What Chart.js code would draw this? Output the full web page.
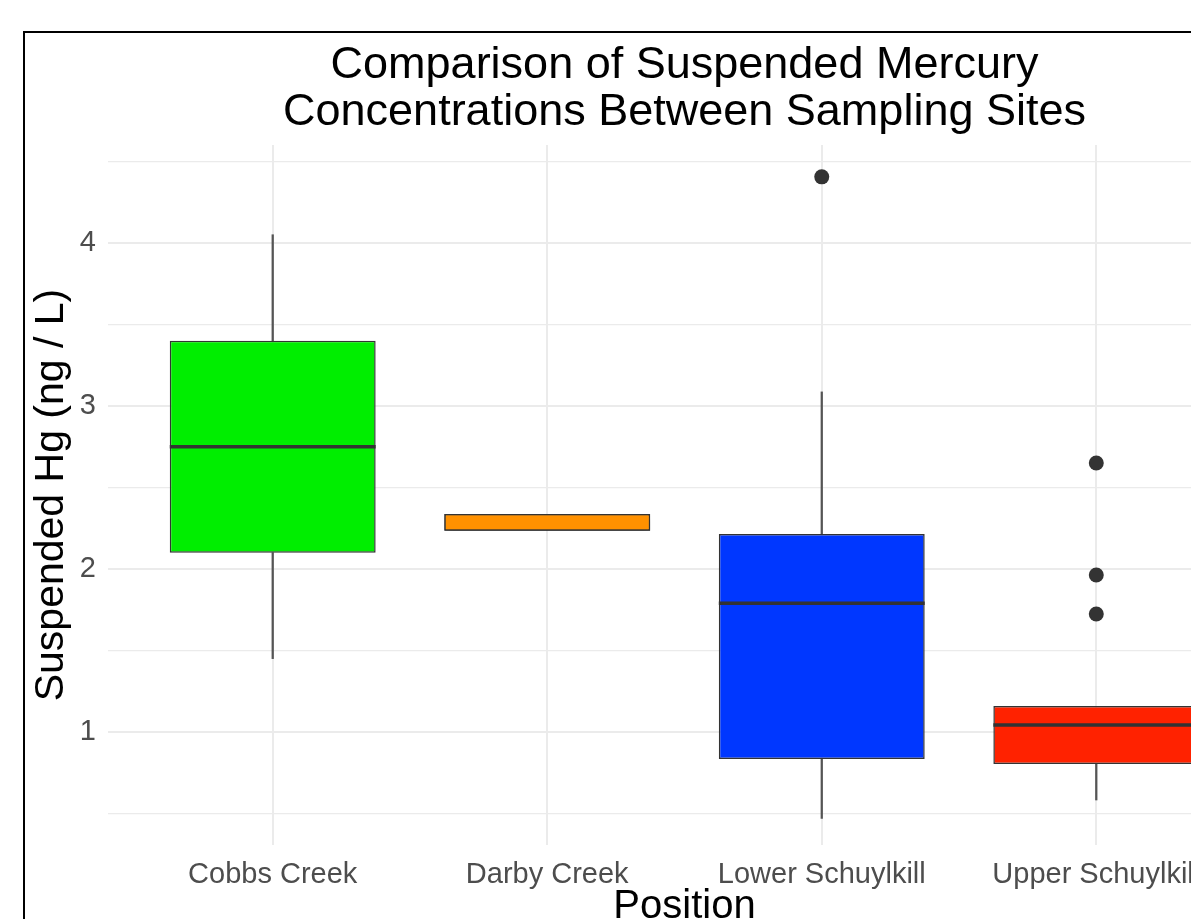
<!DOCTYPE html>
<html lang="en">
<head>
    <meta charset="UTF-8">
    <title>Suspended Mercury</title>
    <script src="https://cdn.jsdelivr.net/npm/chart.js@4.4.0/dist/chart.umd.min.js"></script>
    <style>
        html, body { margin: 0; padding: 0; overflow: hidden; background: #fff; }
        #chartBox { position: absolute; left: 0; top: 0; width: 1300px; height: 960px; }
        #frame { position: absolute; left: 23px; top: 31px; width: 1400px; height: 1000px;
                 border: 2px solid #000; pointer-events: none; }
    </style>
</head>
<body>
    <div id="chartBox"><canvas id="myChart" width="1300" height="960"></canvas></div>
    <div id="frame"></div>

    <script>
        // values
        const sites = ['Cobbs Creek', 'Darby Creek', 'Lower Schuylkill', 'Upper Schuylkill'];
        const boxColors = ['#00ee00', '#ff9100', '#0037ff', '#ff2200'];
        const q1 = [2.10, 2.235, 0.834, 0.804];
        const median = [2.75, null, 1.79, 1.043];
        const q3 = [3.40, 2.337, 2.215, 1.16];
        const whiskerLow = [1.45, null, 0.47, 0.583];
        const whiskerHigh = [4.05, null, 3.086, null];
        const outlierSite = [2, 3, 3, 3];
        const outlierValue = [4.405, 2.65, 1.963, 1.724];
        const yTicks = [0.5, 1, 1.5, 2, 2.5, 3, 3.5, 4, 4.5];

        const font = '"Liberation Sans", Arial, Helvetica, sans-serif';
        const ink = '#333333';

        const boxData = sites.map((s, i) => ({x: i, y: [q1[i], q3[i]]}));
        const upperWhisker = sites.map((s, i) => ({x: i, y: whiskerHigh[i] == null ? null : [q3[i], whiskerHigh[i]]}));
        const lowerWhisker = sites.map((s, i) => ({x: i, y: whiskerLow[i] == null ? null : [whiskerLow[i], q1[i]]}));
        const medianData = sites.map((s, i) => ({x: i, y: median[i]})).filter(p => p.y != null);
        const outlierData = outlierValue.map((v, i) => ({x: outlierSite[i], y: v}));

        // half box width in pixels, taken from the x scale (ggplot box width 0.75)
        function halfBox(ctx) {
            const x = ctx.chart.scales.x;
            return Math.abs(x.getPixelForValue(0.375) - x.getPixelForValue(0));
        }

        // soft shadow under the Darby Creek box, as in the picture
        const shadowPlugin = {
            id: 'boxShadow',
            beforeDatasetDraw(chart, args) {
                if (args.meta.label !== 'boxes') return;
                const el = args.meta.data[1];
                const c = chart.ctx;
                c.save();
                c.shadowColor = 'rgba(0,0,0,0.5)';
                c.shadowBlur = 8;
                c.shadowOffsetY = 4;
                c.shadowOffsetX = 1;
                el.draw(c, chart.chartArea);
                c.restore();
            }
        };

        const ctx = document.getElementById('myChart').getContext('2d');
        new Chart(ctx, {
            type: 'bar',
            data: {
                datasets: [
                    {
                        type: 'scatter', label: 'outliers', data: outlierData, order: 0,
                        pointRadius: 7.5, pointBackgroundColor: ink, pointBorderWidth: 0
                    },
                    {
                        type: 'scatter', label: 'medians', data: medianData, order: 1,
                        pointStyle: 'line', pointRadius: halfBox,
                        pointBorderColor: ink, pointBorderWidth: 3.5
                    },
                    {
                        label: 'boxes', data: boxData, order: 2, grouped: false,
                        backgroundColor: boxColors, borderColor: ink, borderWidth: 1.5,
                        borderSkipped: false, barPercentage: 0.75, categoryPercentage: 1
                    },
                    {
                        label: 'upper', data: upperWhisker, order: 3, grouped: false,
                        backgroundColor: '#555555', barThickness: 1.6
                    },
                    {
                        label: 'lower', data: lowerWhisker, order: 3, grouped: false,
                        backgroundColor: '#555555', barThickness: 1.6
                    }
                ]
            },
            options: {
                responsive: false,
                animation: false,
                events: [],
                layout: { padding: { left: 0, right: 39, top: 0, bottom: 0 }, autoPadding: false },
                plugins: {
                    legend: { display: false },
                    tooltip: { enabled: false },
                    title: {
                        display: true,
                        fullSize: false,
                        text: ['Comparison of Suspended Mercury', 'Concentrations Between Sampling Sites'],
                        color: '#000',
                        font: { family: font, size: 45, weight: 'normal', lineHeight: 1.045 },
                        padding: { top: 42, bottom: 9 }
                    }
                },
                scales: {
                    x: {
                        type: 'linear',
                        min: -0.6,
                        max: 3.6,
                        offset: false,
                        afterBuildTicks: scale => { scale.ticks = sites.map((s, i) => ({value: i})); },
                        afterFit: scale => { scale.height = 115; },
                        grid: { color: '#ebebeb', lineWidth: 2, drawTicks: false, offset: false },
                        border: { display: false },
                        ticks: {
                            autoSkip: false, maxRotation: 0, padding: 13,
                            color: '#4d4d4d', font: { family: font, size: 29 },
                            callback: v => sites[v]
                        },
                        title: {
                            display: true, text: 'Position', color: '#000',
                            font: { family: font, size: 40 },
                            padding: { top: 0, bottom: 29 }
                        }
                    },
                    y: {
                        type: 'linear',
                        min: 0.307,
                        max: 4.6,
                        beginAtZero: false,
                        afterBuildTicks: scale => { scale.ticks = yTicks.map(v => ({value: v})); },
                        afterFit: scale => { scale.width = 108; },
                        grid: {
                            color: '#ebebeb', drawTicks: false,
                            lineWidth: c => Number.isInteger(c.tick.value) ? 2 : 1.3
                        },
                        border: { display: false },
                        ticks: {
                            padding: 12, color: '#4d4d4d', font: { family: font, size: 29 },
                            callback: v => Number.isInteger(v) ? String(v) : ''
                        },
                        title: {
                            display: true, text: 'Suspended Hg (ng / L)', color: '#000',
                            font: { family: font, size: 41 },
                            padding: { top: 27, bottom: 0 }
                        }
                    }
                }
            },
            plugins: [shadowPlugin]
        });
    </script>
</body>
</html>
